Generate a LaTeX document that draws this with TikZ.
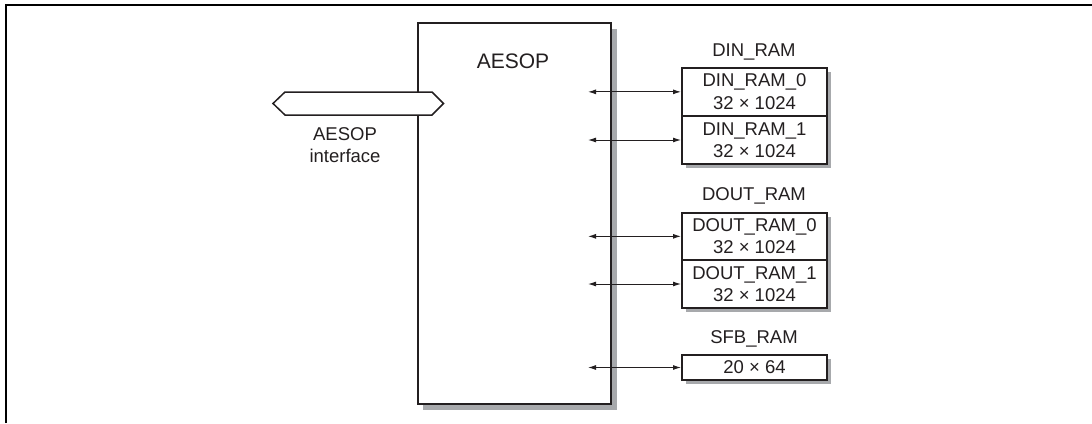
\documentclass[tikz,border=0pt]{standalone}
\usepackage{fontspec}
\setmainfont{Liberation Sans}
\usetikzlibrary{arrows.meta}
\definecolor{ink}{HTML}{231F20}
\definecolor{shade}{HTML}{A7A9AC}
\tikzset{
  every node/.style={font=\fontsize{18.5}{22.5}\selectfont, text=ink, inner sep=0pt},
  frameline/.style={line width=2pt, black},
  mainbox/.style={draw=ink, line width=2pt, fill=white, minimum width=193pt, minimum height=380.5pt},
  rambox/.style={draw=ink, line width=2pt, fill=white, minimum width=145pt, align=center},
  shadowfill/.style={fill=shade, draw=none},
  link/.style={ink, line width=1pt, {Latex[length=8pt,width=5pt]}-{Latex[length=8pt,width=5pt]}},
  hexpath/.style={draw=ink, line width=1.5pt, fill=white, line join=miter},
}
\begin{document}
\begin{tikzpicture}[x=1pt,y=-1pt]
\useasboundingbox (0,0) rectangle (1092,423);
% outer frame (top and left only)
\draw[frameline] (6,423) -- (6,5) -- (1092,5);

% shadows
\fill[shadowfill] (423,28.5) rectangle (616.5,409.5);
\fill[shadowfill] (686,71.7) rectangle (831,168);
\fill[shadowfill] (686,216.7) rectangle (831,312);
\fill[shadowfill] (686,359) rectangle (831,384);

% AESOP box
\node[mainbox] (aesop) at (514.5,213.25) {};
\node (aesoplbl) at (513,61) {\fontsize{21}{25}\selectfont AESOP};

% RAM boxes
\node (dinlbl) at (754,51.7) {DIN\_RAM};
\node[rambox, minimum height=48.2pt] (din0) at (754.5,91.85) {DIN\_RAM\_0\\32 × 1024};
\node[rambox, minimum height=48pt] (din1) at (754.5,140) {DIN\_RAM\_1\\32 × 1024};

\node (doutlbl) at (754,195.5) {DOUT\_RAM};
\node[rambox, minimum height=47.3pt] (dout0) at (754.5,236.35) {DOUT\_RAM\_0\\32 × 1024};
\node[rambox, minimum height=48pt] (dout1) at (754.5,284) {DOUT\_RAM\_1\\32 × 1024};

\node (sfblbl) at (754,339) {SFB\_RAM};
\node[rambox, minimum height=25pt] (sfb) at (754.5,367.5) {20 × 64};

% free ends of the links inside AESOP
\coordinate (p0) at (588,91.85);
\coordinate (p1) at (588,140);
\coordinate (p2) at (588,236.35);
\coordinate (p3) at (588,284);
\coordinate (p4) at (588,367.5);

\draw[link] (p0) -- (din0.west);
\draw[link] (p1) -- (din1.west);
\draw[link] (p2) -- (dout0.west);
\draw[link] (p3) -- (dout1.west);
\draw[link] (p4) -- (sfb.west);

% AESOP interface bus
\draw[hexpath] (273,103.5) -- (285,92) -- (432,92) -- (443.5,103.5) -- (432,115) -- (285,115) -- cycle;
\node[align=center] (iflbl) at (345,145) {AESOP\\interface};
\end{tikzpicture}
\end{document}
